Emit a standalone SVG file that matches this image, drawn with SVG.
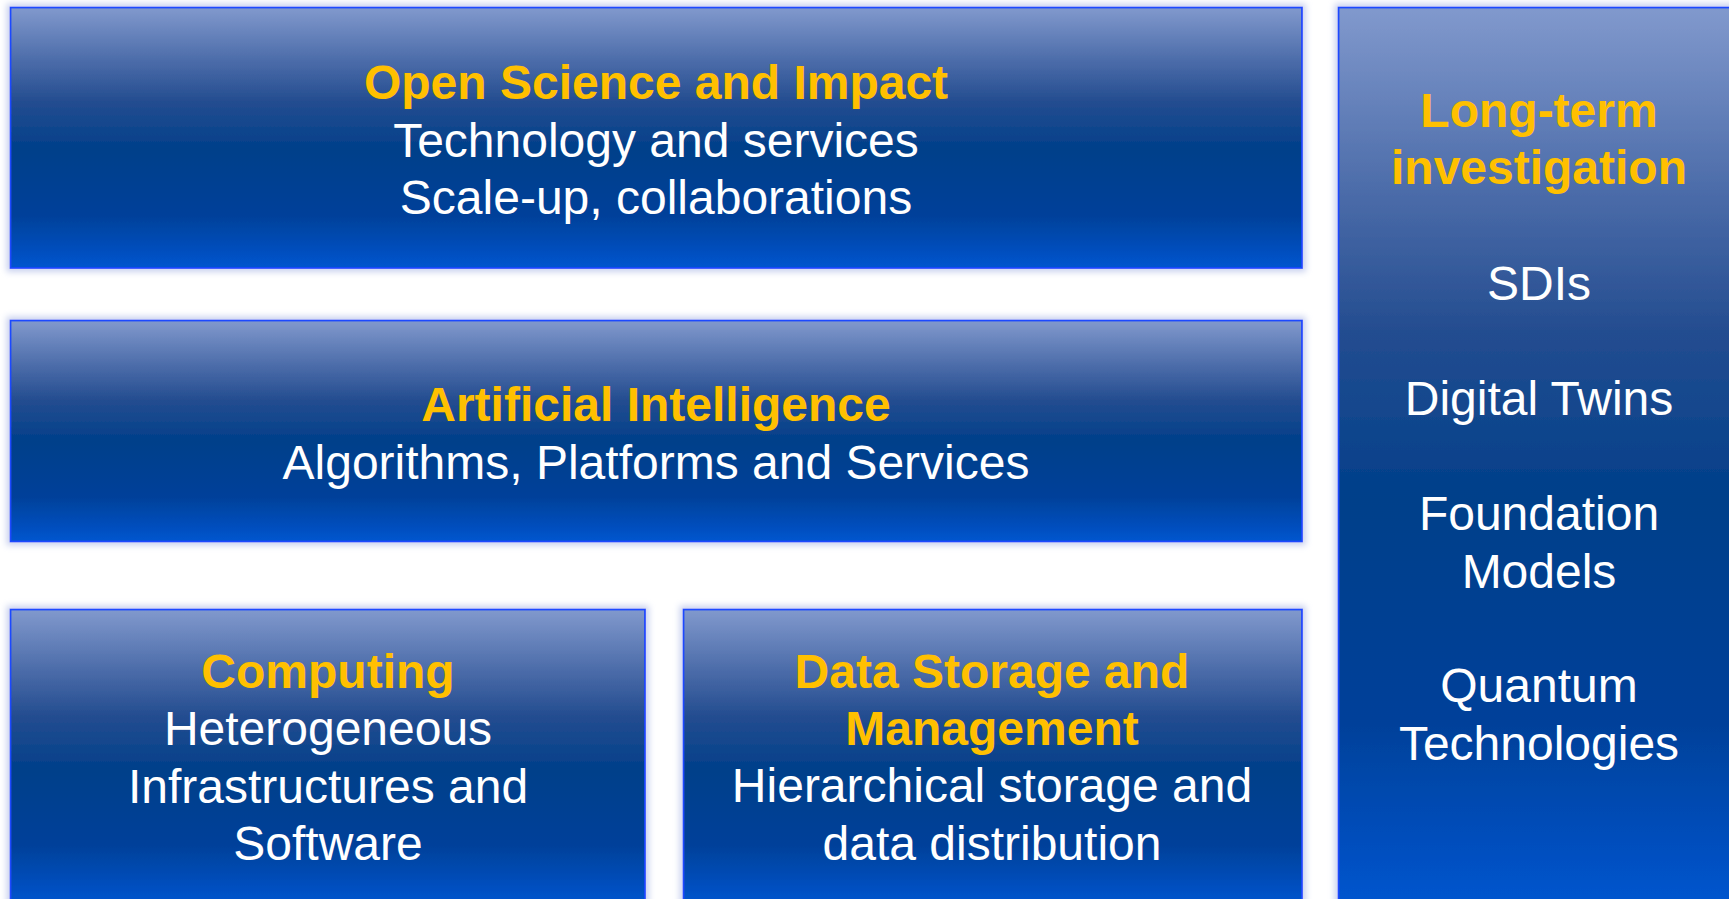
<svg xmlns="http://www.w3.org/2000/svg" width="1729" height="899" viewBox="0 0 1729 899">
<defs>
<linearGradient id="g" x1="0" y1="0" x2="0" y2="1">
<stop offset="0" stop-color="#8199cd"/>
<stop offset="0.2" stop-color="#4d6daa"/>
<stop offset="0.36" stop-color="#244d90"/>
<stop offset="0.55" stop-color="#003f8a"/>
<stop offset="0.8" stop-color="#00419a"/>
<stop offset="1" stop-color="#0055cf"/>
</linearGradient>
<filter id="glow" x="-5%" y="-5%" width="110%" height="110%">
<feMorphology in="SourceAlpha" operator="dilate" radius="3" result="d"/>
<feGaussianBlur in="d" stdDeviation="3" result="b"/>
<feFlood flood-color="#c9d1ef" result="f"/>
<feComposite in="f" in2="b" operator="in" result="s"/>
<feMerge><feMergeNode in="s"/><feMergeNode in="SourceGraphic"/></feMerge>
</filter>
<style>
.box{fill:url(#g);stroke:#1a48ff;stroke-width:1.8;filter:url(#glow)}
text{font-family:"Liberation Sans",Arial,sans-serif;font-size:48px;text-anchor:middle}
.t{fill:#ffc000;font-weight:bold}
.w{fill:#ffffff}
</style>
</defs>
<rect width="1729" height="899" fill="#ffffff"/>
<g id="open-science">
<rect class="box" x="10.5" y="7.5" width="1291.5" height="260.5"/>
<text class="t" x="656" y="99">Open Science and Impact</text>
<text class="w" x="656" y="157">Technology and services</text>
<text class="w" x="656" y="214">Scale-up, collaborations</text>
</g>
<g id="ai">
<rect class="box" x="10.5" y="320.5" width="1291.5" height="221"/>
<text class="t" x="656" y="421">Artificial Intelligence</text>
<text class="w" x="656" y="479">Algorithms, Platforms and Services</text>
</g>
<g id="computing">
<rect class="box" x="10.5" y="609.5" width="634.5" height="295"/>
<text class="t" x="328" y="688">Computing</text>
<text class="w" x="328" y="745">Heterogeneous</text>
<text class="w" x="328" y="803">Infrastructures and</text>
<text class="w" x="328" y="860">Software</text>
</g>
<g id="data-storage">
<rect class="box" x="683.5" y="609.5" width="618.5" height="295"/>
<text class="t" x="992" y="688">Data Storage and</text>
<text class="t" x="992" y="745">Management</text>
<text class="w" x="992" y="802">Hierarchical storage and</text>
<text class="w" x="992" y="860">data distribution</text>
</g>
<g id="long-term">
<rect class="box" x="1338.5" y="7.5" width="402" height="897"/>
<text class="t" x="1539" y="127">Long-term</text>
<text class="t" x="1539" y="184">investigation</text>
<text class="w" x="1539" y="300">SDIs</text>
<text class="w" x="1539" y="415">Digital Twins</text>
<text class="w" x="1539" y="530">Foundation</text>
<text class="w" x="1539" y="588">Models</text>
<text class="w" x="1539" y="702">Quantum</text>
<text class="w" x="1539" y="760">Technologies</text>
</g>
<g id="connectors"/>
</svg>
